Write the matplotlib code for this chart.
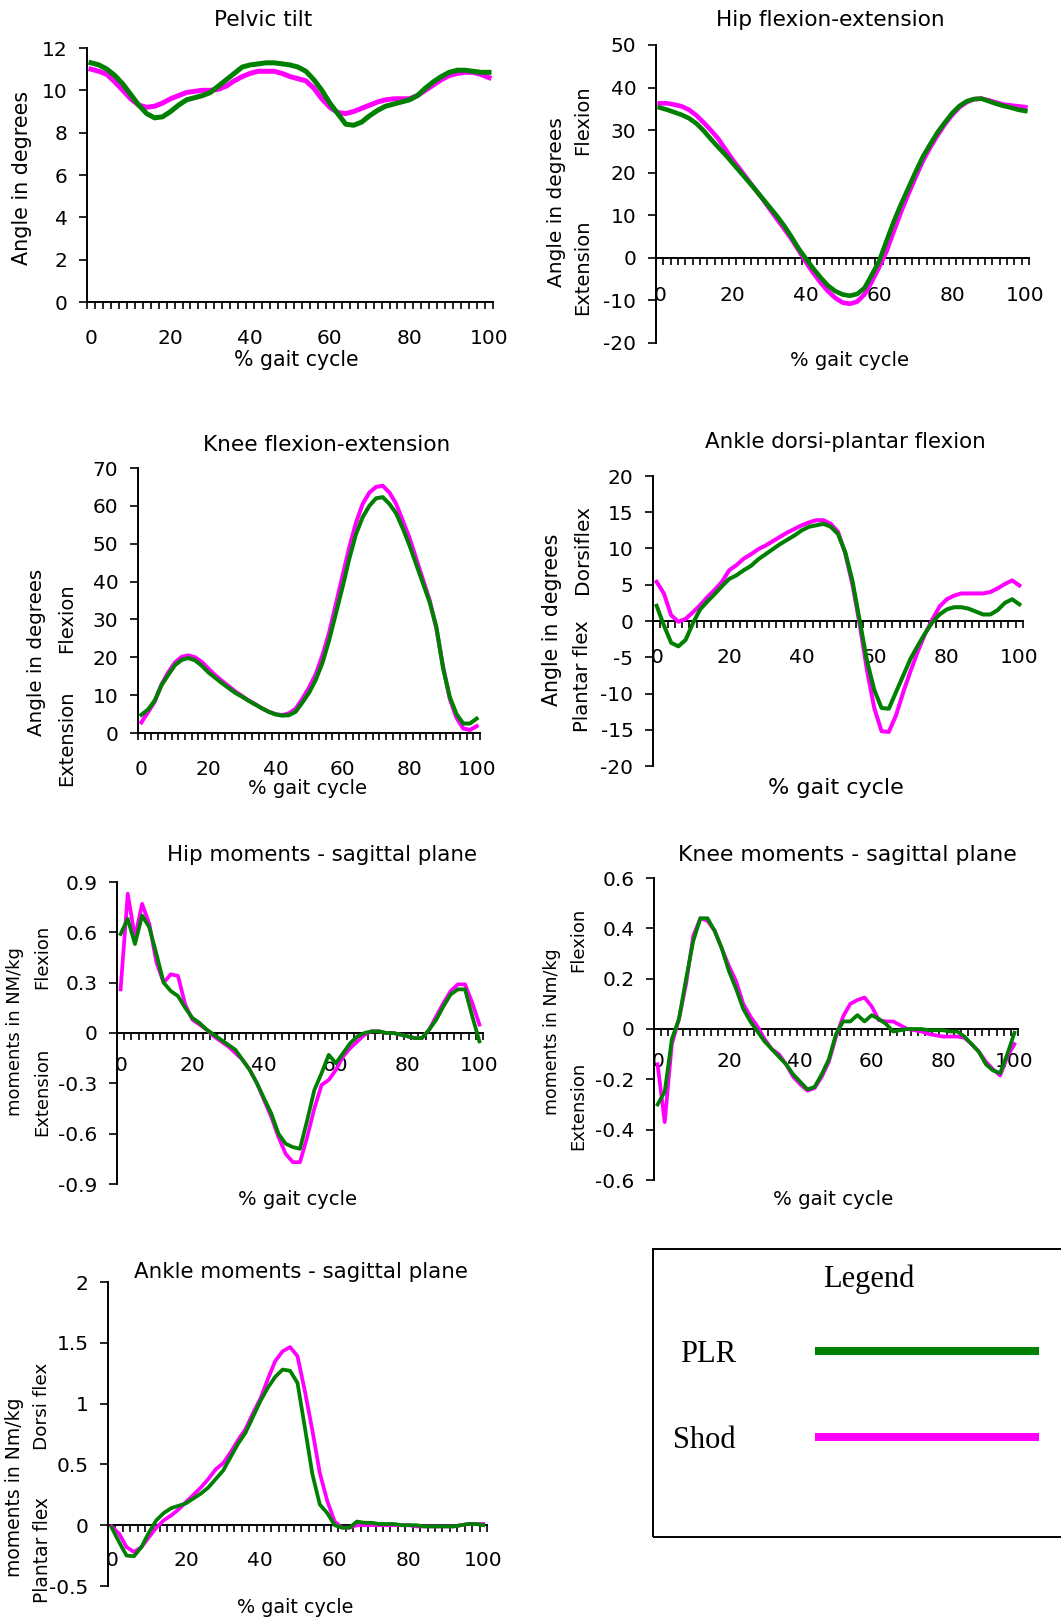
import numpy as np
import matplotlib.pyplot as plt
from matplotlib.lines import Line2D
from matplotlib.patches import Rectangle

plt.rcParams['font.family'] = ['DejaVu Sans']

W, H = 1061, 1617
GREEN = '#008000'
MAGENTA = '#ff00ff'

# % gait cycle, one point every 2 %
gait = np.arange(0, 101, 2)

pelvic_plr = [11.3, 11.2, 11.0, 10.7, 10.3, 9.8, 9.3, 8.9, 8.7, 8.75,
              9.0, 9.3, 9.55, 9.65, 9.75, 9.9, 10.2, 10.5, 10.8, 11.1,
              11.2, 11.25, 11.3, 11.3, 11.25, 11.2, 11.1, 10.9, 10.5, 10.0,
              9.4, 8.9, 8.4, 8.35, 8.5, 8.8, 9.05, 9.25, 9.35, 9.45,
              9.55, 9.75, 10.1, 10.4, 10.65, 10.85, 10.95, 10.95, 10.9, 10.85,
              10.85]
pelvic_shod = [11.0, 10.9, 10.75, 10.4, 10.0, 9.6, 9.3, 9.2, 9.25, 9.4,
               9.6, 9.75, 9.9, 9.95, 10.0, 10.0, 10.05, 10.2, 10.45, 10.65,
               10.8, 10.9, 10.9, 10.9, 10.8, 10.65, 10.55, 10.45, 10.1, 9.6,
               9.2, 8.95, 8.9, 9.0, 9.15, 9.3, 9.45, 9.55, 9.6, 9.6,
               9.6, 9.75, 10.0, 10.25, 10.5, 10.7, 10.8, 10.85, 10.85, 10.75,
               10.6]

hip_plr = [35.3, 34.8, 34.2, 33.6, 32.8, 31.6, 29.9, 27.9, 26.0, 24.2,
           22.2, 20.2, 18.2, 16.2, 14.1, 12.0, 9.9, 7.6, 5.0, 2.2,
           -0.2, -2.5, -4.6, -6.5, -7.8, -8.6, -8.9, -8.5, -7.1, -4.0,
           -0.8, 3.9, 8.5, 12.6, 16.4, 20.2, 23.8, 26.7, 29.5, 31.8,
           34.0, 35.7, 36.8, 37.3, 37.4, 36.8, 36.2, 35.7, 35.3, 34.8,
           34.5]
hip_shod = [36.3, 36.3, 36.0, 35.6, 34.8, 33.5, 31.8, 30.0, 28.0, 25.5,
            23.0, 20.8, 18.5, 16.2, 14.0, 11.6, 9.2, 6.9, 4.5, 1.8,
            -1.0, -3.5, -5.8, -7.8, -9.4, -10.5, -10.8, -10.3, -8.6, -5.6,
            -2.2, 1.5, 6.2, 10.8, 15.0, 19.0, 22.8, 26.0, 28.8, 31.4,
            33.6, 35.4, 36.6, 37.3, 37.4, 37.0, 36.5, 36.0, 35.8, 35.6,
            35.4]

knee_plr = [4.8, 6.2, 8.6, 12.6, 15.3, 17.9, 19.3, 19.8, 19.2, 17.8,
            16.0, 14.6, 13.2, 11.9, 10.6, 9.6, 8.5, 7.5, 6.5, 5.6,
            4.9, 4.6, 4.7, 5.6, 8.0, 10.6, 14.0, 18.5, 24.5, 31.5,
            38.5, 46.0, 52.5, 57.0, 60.0, 62.0, 62.3, 60.5, 58.0, 54.0,
            49.5, 44.5, 39.5, 34.5, 28.0, 17.0, 9.5, 5.0, 2.5, 2.5,
            3.8]
knee_shod = [2.8, 5.5, 8.3, 12.8, 16.0, 18.6, 20.1, 20.5, 20.0, 18.8,
             17.0, 15.3, 13.8, 12.4, 11.0, 9.8, 8.6, 7.6, 6.5, 5.6,
             5.0, 4.7, 5.2, 6.4, 9.0, 12.0, 15.5, 20.5, 26.5, 34.0,
             41.5, 49.0, 55.5, 60.5, 63.5, 65.0, 65.3, 63.5, 60.5, 56.0,
             51.5, 46.0, 40.5, 35.0, 27.5, 17.5, 9.0, 4.0, 1.2, 0.8,
             1.8]

ankle_plr = [2.1, -0.6, -3.0, -3.5, -2.6, -0.3, 1.6, 2.7, 3.7, 4.8,
             5.8, 6.3, 7.0, 7.6, 8.5, 9.2, 9.9, 10.6, 11.2, 11.8,
             12.5, 13.0, 13.2, 13.4, 13.0, 12.0, 9.5, 5.5, 0.0, -5.5,
             -9.5, -12.0, -12.1, -9.8, -7.5, -5.2, -3.4, -1.7, -0.2, 0.9,
             1.6, 1.9, 1.9, 1.7, 1.3, 0.9, 0.9, 1.5, 2.5, 3.0,
             2.3]
ankle_shod = [5.4, 3.8, 0.8, -0.1, 0.3, 1.2, 2.2, 3.3, 4.3, 5.4,
              7.0, 7.7, 8.6, 9.2, 9.9, 10.4, 11.0, 11.6, 12.2, 12.7,
              13.2, 13.6, 13.9, 13.9, 13.4, 12.3, 9.3, 5.0, -0.5, -6.8,
              -12.0, -15.2, -15.3, -13.0, -9.8, -6.9, -4.2, -1.8, 0.2, 2.0,
              3.0, 3.5, 3.8, 3.8, 3.8, 3.8, 4.0, 4.5, 5.1, 5.6,
              4.9]

hipm_plr = [0.59, 0.68, 0.53, 0.70, 0.63, 0.47, 0.30, 0.25, 0.22, 0.15,
            0.09, 0.06, 0.02, -0.01, -0.04, -0.07, -0.10, -0.16, -0.22, -0.30,
            -0.39, -0.48, -0.60, -0.66, -0.68, -0.69, -0.52, -0.34, -0.24, -0.13,
            -0.18, -0.12, -0.06, -0.02, 0.0, 0.01, 0.01, 0.0, 0.0, -0.01,
            -0.02, -0.03, -0.03, 0.02, 0.08, 0.16, 0.23, 0.26, 0.26, 0.10,
            -0.05]
hipm_shod = [0.26, 0.83, 0.57, 0.77, 0.65, 0.42, 0.30, 0.35, 0.34, 0.17,
             0.08, 0.05, 0.02, -0.02, -0.05, -0.08, -0.12, -0.16, -0.22, -0.30,
             -0.40, -0.50, -0.62, -0.72, -0.77, -0.77, -0.62, -0.45, -0.31, -0.28,
             -0.22, -0.14, -0.09, -0.05, -0.01, 0.01, 0.01, 0.0, 0.0, -0.01,
             -0.02, -0.03, -0.03, 0.02, 0.10, 0.18, 0.25, 0.29, 0.29, 0.18,
             0.05]

kneem_plr = [-0.30, -0.25, -0.04, 0.04, 0.20, 0.35, 0.44, 0.44, 0.39, 0.32,
             0.23, 0.16, 0.08, 0.03, -0.01, -0.05, -0.08, -0.11, -0.14, -0.18,
             -0.21, -0.24, -0.23, -0.18, -0.12, -0.02, 0.03, 0.03, 0.055, 0.03,
             0.055, 0.04, 0.02, -0.01, -0.005, 0.0, 0.0, 0.0, -0.005, -0.005,
             -0.005, -0.01, -0.01, -0.03, -0.06, -0.09, -0.14, -0.165, -0.175, -0.10,
             -0.015]
kneem_shod = [-0.14, -0.37, -0.06, 0.04, 0.18, 0.37, 0.44, 0.43, 0.39, 0.32,
              0.25, 0.19, 0.10, 0.05, 0.01, -0.04, -0.08, -0.10, -0.14, -0.19,
              -0.22, -0.245, -0.235, -0.19, -0.13, -0.03, 0.05, 0.10, 0.115, 0.125,
              0.09, 0.035, 0.03, 0.03, 0.015, 0.0, -0.005, -0.01, -0.02, -0.025,
              -0.03, -0.03, -0.03, -0.035, -0.06, -0.09, -0.13, -0.16, -0.185, -0.11,
              -0.06]

anklem_plr = [-0.02, -0.14, -0.25, -0.255, -0.18, -0.06, 0.04, 0.10, 0.14, 0.16,
              0.18, 0.22, 0.26, 0.31, 0.38, 0.45, 0.56, 0.67, 0.76, 0.89,
              1.02, 1.13, 1.22, 1.28, 1.27, 1.17, 0.80, 0.42, 0.17, 0.10,
              0.0, -0.02, -0.02, 0.03, 0.02, 0.02, 0.01, 0.01, 0.01, 0.0,
              0.0, 0.0, -0.01, -0.01, -0.01, -0.01, -0.01, 0.0, 0.01, 0.01,
              0.0]
anklem_shod = [-0.01, -0.07, -0.18, -0.22, -0.18, -0.10, -0.02, 0.04, 0.08, 0.13,
               0.19, 0.25, 0.31, 0.38, 0.46, 0.51, 0.60, 0.70, 0.79, 0.92,
               1.04, 1.20, 1.35, 1.43, 1.465, 1.39, 1.10, 0.78, 0.43, 0.20,
               0.03, -0.02, -0.02, 0.0, 0.0, 0.0, 0.0, 0.0, 0.0, 0.0,
               0.0, -0.01, -0.01, -0.01, -0.01, -0.01, -0.01, 0.0, 0.01, 0.01,
               0.01]

# y tick values / labels per panel
pelvic_ticks = [0, 2, 4, 6, 8, 10, 12]
pelvic_labels = ['0', '2', '4', '6', '8', '10', '12']
hip_ticks = [-20, -10, 0, 10, 20, 30, 40, 50]
hip_labels = ['-20', '-10', '0', '10', '20', '30', '40', '50']
knee_ticks = [0, 10, 20, 30, 40, 50, 60, 70]
knee_labels = ['0', '10', '20', '30', '40', '50', '60', '70']
ankle_ticks = [-20, -15, -10, -5, 0, 5, 10, 15, 20]
ankle_labels = ['-20', '-15', '-10', '-5', '0', '5', '10', '15', '20']
hipm_ticks = [-0.9, -0.6, -0.3, 0, 0.3, 0.6, 0.9]
hipm_labels = ['-0.9', '-0.6', '-0.3', '0', '0.3', '0.6', '0.9']
kneem_ticks = [-0.6, -0.4, -0.2, 0, 0.2, 0.4, 0.6]
kneem_labels = ['-0.6', '-0.4', '-0.2', '0', '0.2', '0.4', '0.6']
anklem_ticks = [-0.5, 0, 0.5, 1, 1.5, 2]
anklem_labels = ['-0.5', '0', '0.5', '1', '1.5', '2']
x_labels = ['0', '20', '40', '60', '80', '100']

fig = plt.figure(figsize=(W / 100, H / 100), dpi=100)


def fx(px):
    return px / W


def fy(py):
    return 1 - py / H


def label(x, y, s, size, rot=0, **kw):
    fig.text(fx(x), fy(y), s, fontsize=size, rotation=rot,
             ha='center', va='center', **kw)


def panel(left, right, top, bottom, ylim, yticks, ylabels, plr, shod, lw, xpad):
    ax = fig.add_axes([fx(left), fy(bottom), fx(right - left), (bottom - top) / H])
    ax.patch.set_alpha(0)
    ax.plot(gait, shod, color=MAGENTA, lw=lw, clip_on=False, zorder=3)
    ax.plot(gait, plr, color=GREEN, lw=lw, clip_on=False, zorder=4)
    ax.set_xlim(-1, 101)
    ax.set_ylim(*ylim)
    ax.spines['top'].set_visible(False)
    ax.spines['right'].set_visible(False)
    ax.spines['left'].set_linewidth(1.4)
    ax.spines['bottom'].set_linewidth(1.4)
    ax.spines['bottom'].set_position(('data', 0))
    ax.set_yticks(yticks)
    ax.set_yticklabels(ylabels)
    ax.set_xticks(range(0, 101, 20))
    ax.set_xticklabels(x_labels)
    ax.set_xticks(np.arange(-1, 102, 2), minor=True)
    ax.tick_params(axis='x', which='major', length=0, pad=xpad, labelsize=14.5)
    ax.tick_params(axis='x', which='minor', length=5, width=1.2, direction='out')
    ax.tick_params(axis='y', length=5.8, width=1.2, pad=8.3, labelsize=14.5)
    return ax


# Pelvic tilt
panel(87, 493, 48, 302, (0, 12), pelvic_ticks, pelvic_labels,
      pelvic_plr, pelvic_shod, 3.6, 19.6)
label(263, 20, 'Pelvic tilt', 15.6)
label(296, 360, '% gait cycle', 14.8)
label(22, 178, 'Angle in degrees', 14.9, 90)

# Hip flexion-extension
panel(656, 1029, 45, 343, (-20, 50), hip_ticks, hip_labels,
      hip_plr, hip_shod, 3.3, 20.6)
label(830, 20, 'Hip flexion-extension', 15.6)
label(849, 360, '% gait cycle', 14)
label(557, 202, 'Angle in degrees', 14.5, 90)
label(583, 120, 'Flexion', 14, 90)
label(583, 267, 'Extension', 14, 90)

# Knee flexion-extension
panel(138, 480, 468, 733, (0, 70), knee_ticks, knee_labels,
      knee_plr, knee_shod, 2.9, 19.2)
label(327, 445, 'Knee flexion-extension', 15.6)
label(307, 788, '% gait cycle', 14)
label(37, 652, 'Angle in degrees', 14.3, 90)
label(67, 618, 'Flexion', 14, 90)
label(67, 738, 'Extension', 14, 90)

# Ankle dorsi-plantar flexion
panel(653, 1023, 476, 766, (-20, 20), ankle_ticks, ankle_labels,
      ankle_plr, ankle_shod, 2.9, 19.6)
label(845, 442, 'Ankle dorsi-plantar flexion', 15.4)
label(836, 788, '% gait cycle', 16)
label(552, 620, 'Angle in degrees', 14.8, 90)
label(583, 550, 'Dorsiflex', 14.5, 90)
label(583, 676, 'Plantar flex', 14.2, 90)

# Hip moments
panel(117, 483, 882, 1184, (-0.9, 0.9), hipm_ticks, hipm_labels,
      hipm_plr, hipm_shod, 2.7, 16.3)
label(322, 855, 'Hip moments - sagittal plane', 15.4)
label(298, 1199, '% gait cycle', 14)
label(15, 1032, 'moments in NM/kg', 12.9, 90)
label(42, 957, 'Flexion', 13, 90)
label(42, 1092, 'Extension', 13, 90)

# Knee moments
panel(654, 1018, 878, 1180, (-0.6, 0.6), kneem_ticks, kneem_labels,
      kneem_plr, kneem_shod, 2.7, 16.3)
label(847, 855, 'Knee moments - sagittal plane', 15.8)
label(833, 1199, '% gait cycle', 14.2)
label(552, 1032, 'moments in Nm/kg', 12.5, 90)
label(578, 940, 'Flexion', 13, 90)
label(578, 1106, 'Extension', 13, 90)

# Ankle moments
panel(108, 487, 1282, 1586, (-0.5, 2), anklem_ticks, anklem_labels,
      anklem_plr, anklem_shod, 2.7, 18.5)
label(301, 1272, 'Ankle moments - sagittal plane', 15.4)
label(295, 1607, '% gait cycle', 13.8)
label(15, 1487, 'moments in Nm/kg', 13.5, 90)
label(42, 1406, 'Dorsi flex', 13.3, 90)
label(42, 1550, 'Plantar flex', 13.4, 90)

# legend box
serif = {'family': 'Liberation Serif', 'size': 22}
fig.add_artist(Rectangle((fx(653), fy(1537)), fx(1065 - 653), (1537 - 1249) / H,
                         transform=fig.transFigure, fill=False,
                         edgecolor='black', lw=1.4))
label(869, 1279, 'Legend', 22, family='Liberation Serif')
handles = [Line2D([], [], color=GREEN, lw=5.8),
           Line2D([], [], color=MAGENTA, lw=5.8)]
fig.legend(handles, ['PLR', 'Shod'], loc='upper left',
           bbox_to_anchor=(fx(673), fy(1340)), frameon=False,
           markerfirst=False, prop=serif, handlelength=7.07,
           handletextpad=2.72, labelspacing=1.87,
           borderpad=0, borderaxespad=0)

fig.savefig('out.png', dpi=100)
